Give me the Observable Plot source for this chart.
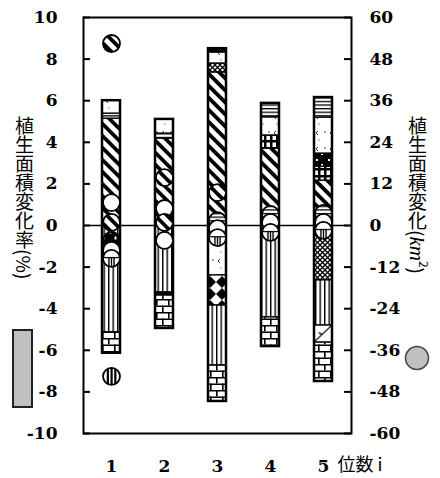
<!DOCTYPE html>
<html><head><meta charset="utf-8">
<script src="https://cdn.jsdelivr.net/npm/d3@7"></script>
<script src="https://cdn.jsdelivr.net/npm/@observablehq/plot@0.6"></script>
<style>
html,body{margin:0;padding:0;background:#fff;}
#wrap{position:relative;width:440px;height:478px;overflow:hidden;background:#fff;}
#wrap > svg{position:absolute;left:0;top:0;}
.vt{position:absolute;writing-mode:vertical-rl;font-family:"Noto Sans CJK JP",sans-serif;font-size:19px;line-height:1;color:#000;white-space:nowrap;}
</style></head><body><div id="wrap"></div>
<script>
// ---- data ----
const positions = [1, 2, 3, 4, 5];
const leftTicks = [10, 8, 6, 4, 2, 0, -2, -4, -6, -8, -10];
const rightTicks = [60, 48, 36, 24, 12, 0, -12, -24, -36, -48, -60];
const xTitle = "位数 i";
const KM_PER_PCT = 6;
// stacked segments (% change), from zero outward: [class, height]
const bar1Up = [["A", 5.14], ["B", 0.24], ["C", 0.62]];
const bar1Down = [["D", 5.14], ["E", 1.0]];
const bar2Up = [["A", 4.18], ["B", 0.24], ["C", 0.68]];
const bar2Down = [["D", 3.22], ["G", 0.15], ["E", 1.58]];
const bar3Up = [["A", 7.36], ["F", 0.43], ["C", 0.53], ["G", 0.18]];
const bar3Down = [["C", 2.4], ["H", 1.45], ["D", 2.88], ["E", 1.73]];
const bar4Up = [["A", 3.70], ["J", 0.63], ["C", 0.87], ["B", 0.67]];
const bar4Down = [["D", 4.42], ["E", 1.40]];
const bar5Up = [["A", 2.16], ["J", 0.67], ["I", 0.63], ["C", 1.73], ["B", 0.96]];
const bar5Down = [["F", 2.64], ["D", 2.17], ["K", 0.82], ["E", 1.87]];
const upList = [bar1Up, bar2Up, bar3Up, bar4Up, bar5Up];
const downList = [bar1Down, bar2Down, bar3Down, bar4Down, bar5Down];
// circles (km2 change)
const circleBar = [1,1,1,1,1,1,1, 2,2,2,2, 3,3,3,3, 4,4,4, 5,5,5];
const circleKm = [52.5,6.6,0.9,-4.3,-7.2,-9.5,-43.5, 13.8,4.9,0.9,-4.3, 9.5,1.4,-0.9,-3.5, 3.2,0.9,-2.0, 3.5,0.9,-1.4];
const circleClass = ["A","W","A","I","W","T","D", "A","W","A","W", "A","B","W","T", "B","W","T", "B","W","T"];

// ---- build tables ----
const segments = [];
const outlines = [];
positions.forEach((p, i) => {
  let c = 0;
  upList[i].forEach(([cls, h]) => { segments.push({pos: p, cls, y1: c, y2: c + h}); c += h; });
  const hi = c; c = 0;
  downList[i].forEach(([cls, h]) => { segments.push({pos: p, cls, y1: c, y2: c - h}); c -= h; });
  outlines.push({pos: p, lo: c, hi});
});
const circles = circleKm.map((km, i) => ({pos: circleBar[i], km, cls: circleClass[i]}));
const segFill = {A:"url(#pA)",B:"url(#pB)",C:"url(#pC)",D:"url(#pD)",E:"url(#pE)",F:"url(#pF)",G:"black",H:"url(#pH)",I:"url(#pI)",J:"url(#pJ)",K:"url(#pK)"};
const cirFill = {A:"url(#pA)",W:"white",T:"url(#cT)",B:"url(#pB)",D:"url(#cD)",I:"url(#pI)"};

const NUMFONT = "'DejaVu Serif', serif";
const plot = Plot.plot({
  width: 440, height: 478,
  marginLeft: 83, marginRight: 89, marginTop: 17, marginBottom: 45,
  x: {type: "band", domain: positions, paddingInner: 0.664, paddingOuter: 0.332},
  y: {domain: [-10, 10], axis: null},
  color: {type: "identity"},
  style: {fontFamily: NUMFONT, fontSize: "16px", fontWeight: "bold", color: "black", background: "white", overflow: "visible"},
  marks: [
    Plot.barY(segments, {x: "pos", y1: "y1", y2: "y2", fill: d => segFill[d.cls], stroke: "black", strokeWidth: 1.3}),
    Plot.barY(outlines, {x: "pos", y1: "lo", y2: "hi", fill: "none", stroke: "black", strokeWidth: 2.5}),
    Plot.ruleY([0], {stroke: "black", strokeWidth: 1.6}),
    Plot.dot(circles, {x: "pos", y: d => d.km / KM_PER_PCT, r: 8.5, fill: d => cirFill[d.cls], stroke: "black", strokeWidth: 1.8}),
    Plot.tickY(leftTicks, {y: d => d, insetRight: 261, stroke: "black", strokeWidth: 2}),
    Plot.tickY(rightTicks, {y: d => d / KM_PER_PCT, insetLeft: 261, stroke: "black", strokeWidth: 2}),
    Plot.text(leftTicks, {y: d => d, text: d => String(d), frameAnchor: "left", textAnchor: "end", dx: -26, fontWeight: "bold", fontSize: 17, fontFamily: NUMFONT}),
    Plot.text(rightTicks, {y: d => d / KM_PER_PCT, text: d => String(d), frameAnchor: "right", textAnchor: "start", dx: 18, fontWeight: "bold", fontSize: 17, fontFamily: NUMFONT}),
    Plot.axisX({tickSize: 0, tickPadding: 26, fontSize: 17, fontWeight: "bold", fontFamily: NUMFONT, label: null}),
    Plot.text([xTitle], {frameAnchor: "bottom-right", textAnchor: "start", lineAnchor: "middle", dx: -14, dy: 32, fontSize: 18, fontWeight: "normal", fontFamily: "'Noto Sans CJK JP', sans-serif"}),
    Plot.frame({stroke: "black", strokeWidth: 2})
  ]
});

const defs = document.createElementNS("http://www.w3.org/2000/svg", "defs");
defs.innerHTML = `
<pattern id="pA" patternUnits="userSpaceOnUse" width="8.5" height="8.5" patternTransform="rotate(-45)"><rect width="8.5" height="8.5" fill="white"/><rect width="3.8" height="8.5" fill="black"/></pattern>
<pattern id="pB" patternUnits="userSpaceOnUse" width="6" height="3.6"><rect width="6" height="3.6" fill="white"/><rect width="6" height="1.3" fill="black"/></pattern>
<pattern id="pC" patternUnits="userSpaceOnUse" width="14" height="16"><rect width="14" height="16" fill="white"/><circle cx="3" cy="4" r="0.7" fill="black"/><circle cx="11" cy="12" r="0.6" fill="black"/><path d="M10 3 L8 5 L10 7" fill="none" stroke="black" stroke-width="0.8"/></pattern>
<pattern id="pD" patternUnits="userSpaceOnUse" width="4.5" height="10"><rect width="4.5" height="10" fill="white"/><rect width="1.4" height="10" fill="black"/></pattern>
<pattern id="pE" patternUnits="userSpaceOnUse" width="12" height="13"><rect width="12" height="13" fill="white"/><rect width="12" height="1.5" fill="black"/><rect y="6.5" width="12" height="1.5" fill="black"/><rect x="0" width="1.6" height="6.5" fill="black"/><rect x="6" y="6.5" width="1.6" height="6.5" fill="black"/></pattern>
<pattern id="pF" patternUnits="userSpaceOnUse" width="5" height="5"><rect width="5" height="5" fill="white"/><path d="M0 0 L5 5 M5 0 L0 5" stroke="black" stroke-width="1.3"/></pattern>
<pattern id="pH" patternUnits="userSpaceOnUse" width="12" height="12"><rect width="12" height="12" fill="white"/><polygon points="6,0 12,6 6,12 0,6" fill="black"/></pattern>
<pattern id="pI" patternUnits="userSpaceOnUse" width="12" height="12"><rect width="12" height="12" fill="black"/><rect x="4" y="3" width="2" height="2" fill="white"/><rect x="9" y="8" width="2" height="3" fill="white"/></pattern>
<pattern id="pJ" patternUnits="userSpaceOnUse" width="6" height="7"><rect width="6" height="7" fill="white"/><rect width="2.5" height="7" fill="black"/><rect width="6" height="2.5" fill="black"/></pattern>
<pattern id="pK" patternUnits="objectBoundingBox" patternContentUnits="objectBoundingBox" width="1" height="1"><rect width="1" height="1" fill="white"/><path d="M0.95 0.05 L0.05 0.95 M0.25 0.45 L0.5 0.55" stroke="black" stroke-width="0.07" fill="none"/></pattern>
<pattern id="cT" patternUnits="objectBoundingBox" patternContentUnits="objectBoundingBox" width="1" height="1"><rect width="1" height="1" fill="white"/><path d="M0 0.45 L1 0.45 M0.35 0.45 L0.35 1 M0.5 0.45 L0.5 1 M0.65 0.45 L0.65 1" stroke="black" stroke-width="0.08" fill="none"/></pattern>
<pattern id="cD" patternUnits="objectBoundingBox" patternContentUnits="objectBoundingBox" width="1" height="1"><rect width="1" height="1" fill="white"/><rect x="0.22" width="0.13" height="1" fill="black"/><rect x="0.44" width="0.13" height="1" fill="black"/><rect x="0.66" width="0.13" height="1" fill="black"/></pattern>
`;
plot.insertBefore(defs, plot.firstChild);

const wrap = document.getElementById("wrap");
wrap.appendChild(plot);

// legend swatches
const NS = "http://www.w3.org/2000/svg";
const lg = document.createElementNS(NS, "svg");
lg.setAttribute("width", 440); lg.setAttribute("height", 478);
lg.style.pointerEvents = "none";
lg.innerHTML = `<rect x="13" y="330" width="19" height="77" fill="#c0c0c0" stroke="#222" stroke-width="2"/>
<circle cx="417" cy="358" r="11.5" fill="#c0c0c0" stroke="#444" stroke-width="1.5"/>`;
wrap.appendChild(lg);

const lt = document.createElement("div");
lt.className = "vt"; lt.style.left = "15px"; lt.style.top = "116px";
lt.textContent = "植生面積変化率(%)";
wrap.appendChild(lt);

const rt = document.createElement("div");
rt.className = "vt"; rt.style.left = "406px"; rt.style.top = "116px";
rt.innerHTML = '植生面積変化(<span style="font-family:\'Liberation Serif\',serif;font-style:italic;font-size:21px">km</span><sup style="font-size:12px">2</sup>)';
wrap.appendChild(rt);
</script></body></html>
